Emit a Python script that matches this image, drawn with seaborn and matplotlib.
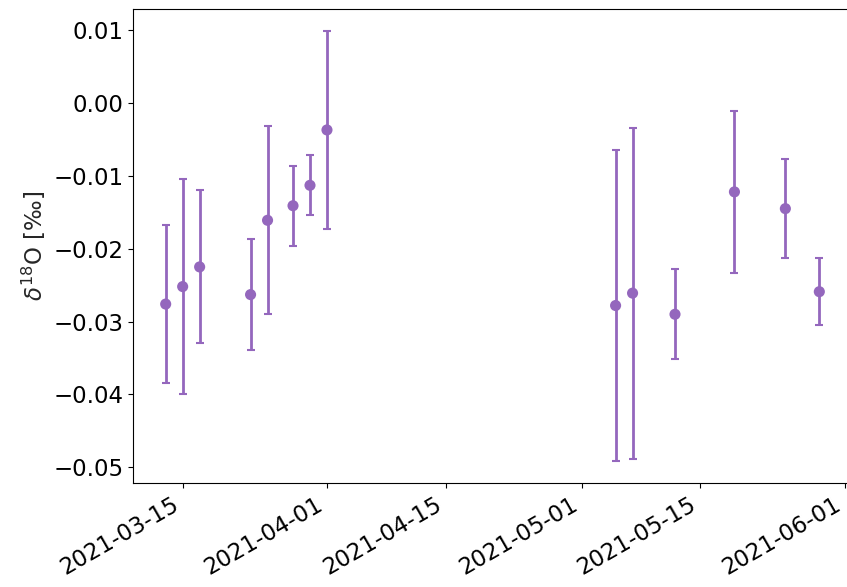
import matplotlib
matplotlib.use("Agg")
import matplotlib.dates as mdates
import matplotlib.pyplot as plt
import numpy as np
import pandas as pd
import seaborn as sns

dates = ['2021-03-13', '2021-03-15', '2021-03-17', '2021-03-23', '2021-03-25',
         '2021-03-28', '2021-03-30', '2021-04-01', '2021-05-05', '2021-05-07',
         '2021-05-12', '2021-05-19', '2021-05-25', '2021-05-29']
d18o = [-0.0276, -0.0252, -0.0225, -0.0263, -0.0161, -0.0141, -0.0113,
        -0.0037, -0.0278, -0.0261, -0.0290, -0.0122, -0.0145, -0.0259]
d18o_err = [0.0109, 0.0148, 0.0105, 0.0076, 0.0129, 0.0055, 0.0041,
            0.0136, 0.0214, 0.0227, 0.0062, 0.0111, 0.0068, 0.0046]

df = pd.DataFrame({'date': pd.to_datetime(dates), 'd18o': d18o, 'err': d18o_err})

sns.set_style('ticks')
plt.rcParams.update({
    'font.family': ['DejaVu Sans'],
    'axes.edgecolor': 'black',
    'axes.linewidth': 0.8,
    'xtick.major.size': 3.5,
    'ytick.major.size': 3.5,
    'xtick.major.width': 0.8,
    'ytick.major.width': 0.8,
    'xtick.color': 'black',
    'ytick.color': 'black',
    'axes.unicode_minus': True,
})

color = '#9467bd'
fig = plt.figure(figsize=(8.47, 5.87), dpi=100)
ax = fig.add_axes([133 / 847, (587 - 483.3) / 587, 719 / 847, 474.3 / 587])

ax.errorbar(df['date'], df['d18o'], yerr=df['err'], fmt='none', ecolor=color,
            elinewidth=2, capsize=3, capthick=1.5)
sns.scatterplot(data=df, x='date', y='d18o', color=color, s=64,
                edgecolor='none', ax=ax, zorder=3)

ax.xaxis.set_major_locator(mdates.DayLocator(bymonthday=[1, 15]))
ax.xaxis.set_major_formatter(mdates.DateFormatter('%Y-%m-%d'))
ax.set_xlabel('')
ax.set_ylabel(r'$\delta^{18}$O [‰]', fontsize=16.5)
ax.tick_params(axis='both', labelsize=16.5)
for lbl in ax.get_xticklabels():
    lbl.set_rotation(30)
    lbl.set_ha('right')
ax.set_xlim(pd.Timestamp('2021-03-09 03:36'), pd.Timestamp('2021-06-01 20:24'))
ax.set_ylim(-0.0522, 0.0129)

fig.savefig('out.png', dpi=100)
